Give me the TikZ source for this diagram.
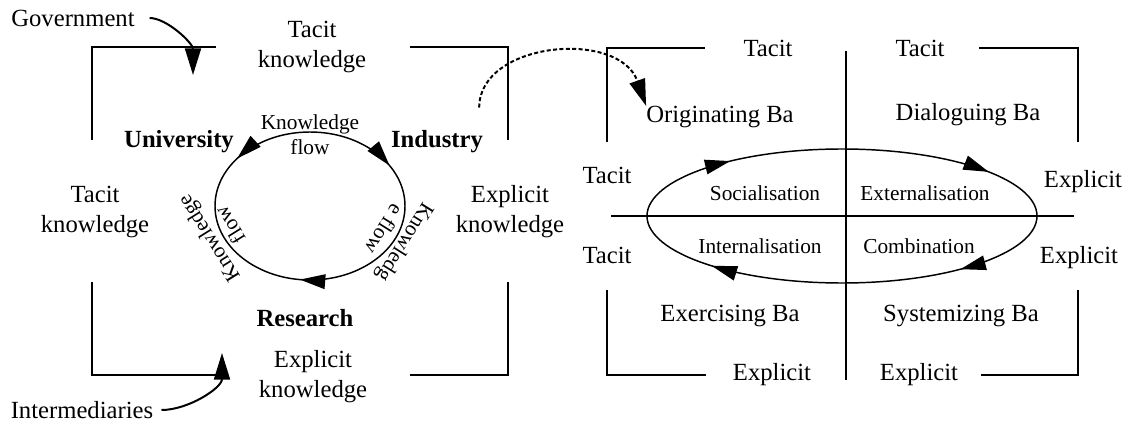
\documentclass[tikz,border=0pt]{standalone}
\usepackage{fontspec}
\setmainfont{Liberation Serif}
\usetikzlibrary{arrows.meta,decorations.markings}

\begin{document}
\begin{tikzpicture}[x=0.75pt,y=0.75pt,
    frame/.style={line width=1.5pt},
    lbl/.style={font=\fontsize{18.5}{22.5}\selectfont, align=center, inner sep=0pt},
    small/.style={font=\fontsize{16}{19}\selectfont, align=center, inner sep=0pt},
    actor/.style={font=\fontsize{18.5}{22}\selectfont\bfseries, inner sep=0pt},
    arr/.style={-{Triangle[length=20pt,width=12pt]}, line width=1.5pt},
    dotarr/.style={-{Triangle[length=20pt,width=12pt]}, line width=1.5pt, dash pattern=on 3pt off 1.8pt},
    flowleft/.style={line width=1.1pt, postaction={decorate}, decoration={markings,
      mark=at position 0.083 with {\arrowreversed{Triangle[length=19pt,width=11pt]}},
      mark=at position 0.399 with {\arrow{Triangle[length=19pt,width=11pt]}},
      mark=at position 0.731 with {\arrowreversed{Triangle[length=19pt,width=11pt]}}}},
    flowright/.style={line width=1.1pt, postaction={decorate}, decoration={markings,
      mark=at position 0.079 with {\arrowreversed{Triangle[length=19pt,width=11pt]}},
      mark=at position 0.379 with {\arrowreversed{Triangle[length=19pt,width=11pt]}},
      mark=at position 0.599 with {\arrowreversed{Triangle[length=19pt,width=11pt]}},
      mark=at position 0.887 with {\arrowreversed{Triangle[length=19pt,width=11pt]}}}}]
  \useasboundingbox (0,0) rectangle (1129,422);

  \draw[frame] (92,140) -- (92,47) -- (223,47);
  \draw[frame] (410,47) -- (508,47) -- (508,140);
  \draw[frame] (92,282) -- (92,375) -- (216,375);
  \draw[frame] (410,375) -- (508,375) -- (508,282);

  \node[lbl] (tacitTop) at (312,375) {Tacit\\knowledge};
  \node[lbl] (tacitLeft) at (95,210) {Tacit\\knowledge};
  \node[lbl] (explicitRight) at (510,210) {Explicit\\knowledge};
  \node[lbl] (explicitBottom) at (313,45) {Explicit\\knowledge};

  \node[actor] (uni) at (179,280) {University};
  \node[actor] (ind) at (437,280) {Industry};
  \node[actor] (res) at (305,104) {Research};

  \draw[flowleft] (310,216) ellipse [x radius=95, y radius=74];
  \node[small] (flowTop) at (310,287) {Knowledge\\flow};
  \node[small, rotate=122] (flowLeft) at (219,190) {Knowledge\\flow};
  \node[small, rotate=238] (flowRight) at (395,186) {Knowledg\\e flow};

  \node[lbl] (gov) at (73,404) {Government};
  \node[lbl] (inter) at (82,12) {Intermediaries};
  \coordinate (govTip) at (193,347);
  \coordinate (interTip) at (222,69);
  \draw[arr, shorten <=11pt] (gov.east) to[out=0,in=90] (govTip);
  \draw[arr, shorten <=6pt] (inter.east) to[out=0,in=-90] (interTip);

  \draw[frame] (607,280) -- (607,374) -- (705,374);
  \draw[frame] (979,374) -- (1078,374) -- (1078,280);
  \draw[frame] (607,132) -- (607,47) -- (706,47);
  \draw[frame] (981,47) -- (1078,47) -- (1078,132);
  \draw[frame] (846,371) -- (846,42);
  \draw[frame] (611,206) -- (1074,206);
  \draw[flowright] (842,206) ellipse [x radius=195, y radius=67];

  \node[lbl] (tacitA) at (768,374) {Tacit};
  \node[lbl] (tacitB) at (920,374) {Tacit};
  \node[lbl] (tacitC) at (607,247) {Tacit};
  \node[lbl] (tacitD) at (607,167) {Tacit};
  \node[lbl] (explicitA) at (1083,240) {Explicit};
  \node[lbl] (explicitB) at (1079,164) {Explicit};
  \node[lbl] (explicitC) at (772,47) {Explicit};
  \node[lbl] (explicitD) at (919,47) {Explicit};

  \node[lbl] (orig) at (720,305) {Originating Ba};
  \node[lbl] (dial) at (968,307) {Dialoguing Ba};
  \node[lbl] (exer) at (730,106) {Exercising Ba};
  \node[lbl] (syst) at (961,106) {Systemizing Ba};

  \node[small] (soc) at (765,229) {Socialisation};
  \node[small] (ext) at (925,229) {Externalisation};
  \node[small] (intl) at (760,176) {Internalisation};
  \node[small] (comb) at (919,176) {Combination};

  \draw[dotarr] ([shift={(-4,23)}]ind.north east) .. controls +(0,66) and +(-27,77) .. (orig.north west);
\end{tikzpicture}
\end{document}
